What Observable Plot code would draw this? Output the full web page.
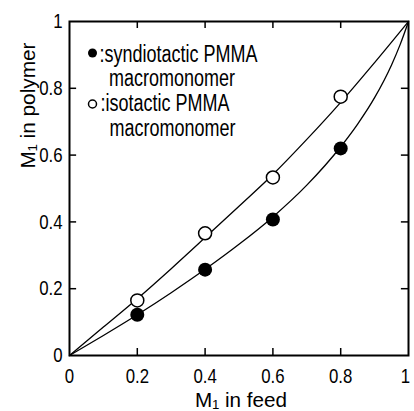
<!DOCTYPE html>
<html>
<head>
<meta charset="utf-8">
<script src="https://cdn.jsdelivr.net/npm/d3@7"></script>
<script src="https://cdn.jsdelivr.net/npm/@observablehq/plot@0.6"></script>
<style>
  html, body { margin: 0; padding: 0; background: #fff; }
</style>
</head>
<body>
<div id="chart"></div>
<script>
// Measured points
const feed = [0.2, 0.4, 0.6, 0.8];
const synPolymer = [0.122, 0.257, 0.407, 0.62];
const isoPolymer = [0.165, 0.366, 0.533, 0.775];

// Curves
const synCurveFeed = [0, 0.1, 0.2, 0.3, 0.4, 0.5, 0.6, 0.7, 0.8, 0.85, 0.9, 0.95, 0.975, 1];
const synCurve     = [0, 0.06, 0.122, 0.188, 0.258, 0.333, 0.415, 0.51, 0.625, 0.693, 0.772, 0.87, 0.93, 1];
const isoCurveFeed = [0, 0.1, 0.2, 0.3, 0.4, 0.5, 0.6, 0.7, 0.8, 0.9, 1];
const isoCurve     = [0, 0.085, 0.17, 0.26, 0.353, 0.447, 0.542, 0.647, 0.758, 0.877, 1];

// Ticks
const tickValues = [0, 0.2, 0.4, 0.6, 0.8, 1];
const tickLabels = ["0", "0.2", "0.4", "0.6", "0.8", "1"];
const innerTicks = [0.2, 0.4, 0.6, 0.8];

// Texts
const xLabel = "M\u2081 in feed";
const yLabel = "M\u2081 in polymer";
const legendLines = [":syndiotactic PMMA", "macromonomer", ":isotactic PMMA", "macromonomer"];

const synPts = feed.map((f, i) => ({f, p: synPolymer[i]}));
const isoPts = feed.map((f, i) => ({f, p: isoPolymer[i]}));
const synLine = synCurveFeed.map((f, i) => ({f, p: synCurve[i]}));
const isoLine = isoCurveFeed.map((f, i) => ({f, p: isoCurve[i]}));
const fmt = d => tickLabels[tickValues.indexOf(d)];
const tl = 0.021;

const legendText = (s, dx, dy) => Plot.text([s], {
  frameAnchor: "top-left", textAnchor: "start", lineAnchor: "middle",
  dx, dy, text: d => d, fontSize: 23
});

const chart = Plot.plot({
  width: 414,
  height: 411,
  marginLeft: 69,
  marginRight: 6,
  marginTop: 21,
  marginBottom: 56,
  style: {fontSize: "21px", fontFamily: "'Liberation Sans', Arial, sans-serif", color: "#000", background: "#fff"},
  x: {domain: [0, 1]},
  y: {domain: [0, 1]},
  marks: [
    Plot.axisX(tickValues, {tickSize: 0, tickPadding: 13, tickFormat: fmt, label: null, fontSize: 21}),
    Plot.axisY(tickValues, {tickSize: 0, tickPadding: 7, tickFormat: fmt, label: null, fontSize: 21}),
    Plot.ruleX(innerTicks, {x: d => d, y1: 0, y2: tl, strokeWidth: 1.5}),
    Plot.ruleX(innerTicks, {x: d => d, y1: 1 - tl, y2: 1, strokeWidth: 1.5}),
    Plot.ruleY(innerTicks, {y: d => d, x1: 0, x2: tl, strokeWidth: 1.5}),
    Plot.ruleY(innerTicks, {y: d => d, x1: 1 - tl, x2: 1, strokeWidth: 1.5}),
    Plot.frame({strokeWidth: 2}),
    Plot.line(synLine, {x: "f", y: "p", curve: "monotone-x", strokeWidth: 1.3}),
    Plot.line(isoLine, {x: "f", y: "p", curve: "monotone-x", strokeWidth: 1.3}),
    Plot.dot(synPts, {x: "f", y: "p", r: 7, fill: "#000", stroke: "none"}),
    Plot.dot(isoPts, {x: "f", y: "p", r: 6.5, fill: "#fff", stroke: "#000", strokeWidth: 1.5}),
    // legend
    Plot.dot([0], {frameAnchor: "top-left", dx: 23, dy: 31.5, r: 4.5, fill: "#000"}),
    Plot.dot([0], {frameAnchor: "top-left", dx: 23, dy: 82.5, r: 4, fill: "#fff", stroke: "#000", strokeWidth: 1.5}),
    legendText(legendLines[0], 30, 32.8),
    legendText(legendLines[1], 39.5, 57.3),
    legendText(legendLines[2], 31, 81.8),
    legendText(legendLines[3], 40, 107.3),
    // axis titles
    Plot.text([xLabel], {frameAnchor: "bottom", lineAnchor: "middle", dy: 45, dx: 2, text: d => d, fontSize: 21}),
    Plot.text([yLabel], {frameAnchor: "left", lineAnchor: "middle", dx: -41.5, dy: -20, rotate: -90, text: d => d, fontSize: 21})
  ]
});
document.getElementById("chart").appendChild(chart);

// Narrow the glyphs to mimic the condensed typeface of the original
function squeeze(t, len) {
  t.setAttribute("textLength", len);
  t.setAttribute("lengthAdjust", "spacingAndGlyphs");
}
chart.querySelectorAll("text").forEach(t => {
  const s = t.textContent;
  const L = t.getComputedTextLength();
  if (legendLines.includes(s)) squeeze(t, L * 18 / 23);
  else if (s === xLabel) squeeze(t, 92);
  else if (s === yLabel) squeeze(t, 126);
  else if (tickLabels.includes(s)) {
    squeeze(t, L * 0.8);
    // keep the last x tick label inside the picture
    const g = t.closest("g[aria-label]");
    if (s === "1" && g && g.getAttribute("aria-label").startsWith("x-axis")) t.setAttribute("dx", -3);
  }
});
</script>
</body>
</html>
